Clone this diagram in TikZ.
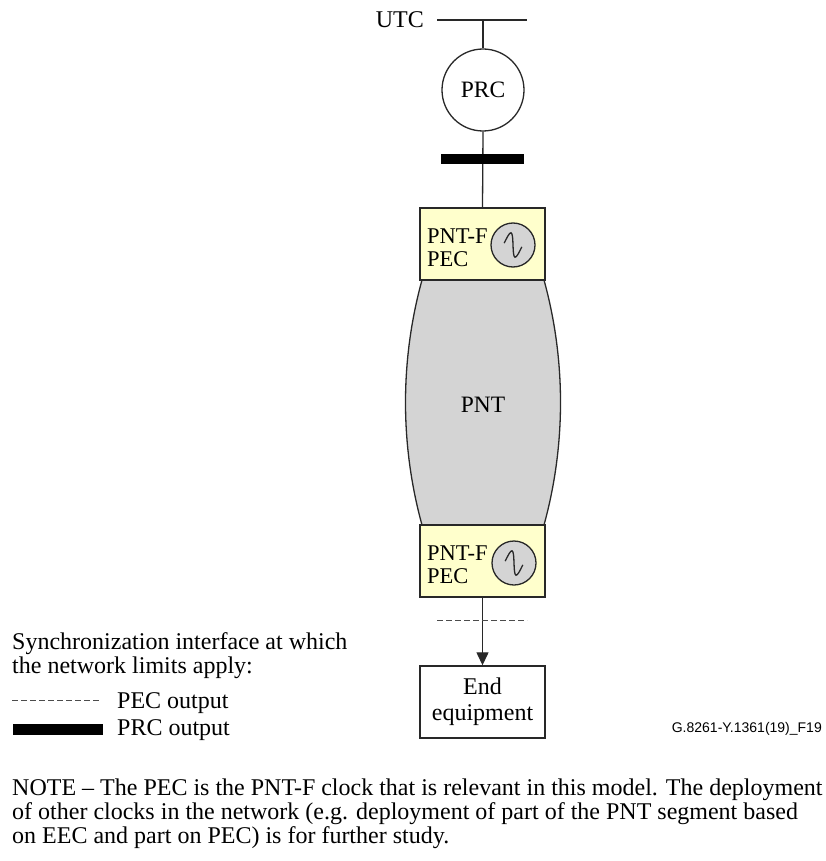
\documentclass[tikz,border=0pt]{standalone}
\usepackage{fontspec}
\setmainfont{Liberation Serif}
\newfontfamily\labelsans{Liberation Sans}
\usetikzlibrary{arrows.meta}
\definecolor{pecyellow}{RGB}{255,255,204}
\definecolor{pntgray}{RGB}{212,212,212}
\definecolor{lncol}{RGB}{40,40,40}
\begin{document}
\begin{tikzpicture}[x=1pt,y=-1pt,
  txt/.style={font=\fontsize{24}{24}\selectfont, inner sep=0pt},
  boxtxt/.style={font=\fontsize{22.5}{23}\selectfont, inner sep=0pt},
  ln/.style={line width=1.3pt, draw=lncol},
  pecbox/.style={rectangle, draw=lncol, line width=1.4pt, fill=pecyellow, minimum width=125pt, minimum height=72pt, inner sep=0pt},
  osc/.style={circle, draw=lncol, line width=1.3pt, fill=pntgray, minimum size=44pt, inner sep=0pt},
  endbox/.style={rectangle, draw=lncol, line width=1.4pt, fill=white, minimum width=125pt, minimum height=72pt, inner sep=0pt, align=center, font=\fontsize{24}{26}\selectfont},
  dashline/.style={line width=0.9pt, draw=black!70, dash pattern=on 6pt off 3pt},
  wave/.style={line width=1.3pt, draw=lncol},
]
\useasboundingbox (0,0) rectangle (825,861);

% UTC and PRC
\node[txt, anchor=east] (utc) at (424,20) {UTC};
\coordinate (utcL) at (437,20);
\coordinate (utcR) at (527,20);
\coordinate (utcM) at (483,20);
\draw[ln] (utcL) -- (utcR);
\node[circle, draw=lncol, line width=1.3pt, minimum size=82pt, inner sep=0pt, font=\fontsize{23.5}{24}\selectfont] (prc) at (483,90) {PRC};
\draw[ln] (utcM) -- (prc.north);

% PNT cloud
\draw[draw=lncol, line width=1.3pt, fill=pntgray]
  (422,280) .. controls (400,360) and (400,445) .. (422,525) -- (544,525)
  .. controls (566,445) and (566,360) .. (544,280) -- cycle;
\node[inner sep=0pt, font=\fontsize{23.5}{24}\selectfont] (pnt) at (483,405) {PNT};

% top PEC box
\node[pecbox] (pec1) at (482.5,244) {};
\draw[ln] (prc.south) -- (pec1.north);
\node[rectangle, fill=black, minimum width=83pt, minimum height=10pt, inner sep=0pt] (bar) at (482.5,159) {};
\node[boxtxt, anchor=west, align=left] (pec1t) at (427,248) {PNT-F\\PEC};
\node[osc] (osc1) at (513,245) {};
\draw[wave, rotate around={-12:(osc1.center)}, shift={(osc1.center)}]
  (-9,0) sin (-4.5,-11.5) cos (0,0) sin (4.5,11.5) cos (9,0);

% bottom PEC box
\node[pecbox] (pec2) at (482.5,561) {};
\node[boxtxt, anchor=west, align=left] (pec2t) at (427,565) {PNT-F\\PEC};
\node[osc] (osc2) at (514,563) {};
\draw[wave, rotate around={-12:(osc2.center)}, shift={(osc2.center)}]
  (-9,0) sin (-4.5,-11.5) cos (0,0) sin (4.5,11.5) cos (9,0);

% end equipment
\node[endbox] (endeq) at (482.5,702) {End\\equipment};
\draw[ln, -{Triangle[width=12pt,length=13pt]}] (pec2.south) -- (endeq.north);
\coordinate (d1) at (437,620);
\coordinate (d2) at (527,620);
\draw[dashline] (d1) -- (d2);

% legend
\node[txt, anchor=west, align=left] (leg) at (12,656) {Synchronization interface at which\\the network limits apply:};
\coordinate (l1) at (12,700);
\coordinate (l2) at (101,700);
\draw[dashline] (l1) -- (l2);
\node[txt, anchor=west] (legpec) at (117,703) {PEC output};
\node[rectangle, fill=black, minimum width=90pt, minimum height=11pt, inner sep=0pt] (legbar) at (58,729) {};
\node[txt, anchor=west] (legprc) at (117,730) {PRC output};

% figure label
\node[font=\labelsans\fontsize{14}{16}\selectfont, anchor=east, inner sep=0pt] (fig) at (822,729) {G.8261-Y.1361(19)\_F19};

% note
\node[txt, anchor=north west, align=left] (note) at (12,779) {NOTE -- The PEC is the PNT-F clock that is relevant in this model. The deployment\\of other clocks in the network (e.g. deployment of part of the PNT segment based\\on EEC and part on PEC) is for further study.};
\end{tikzpicture}
\end{document}
